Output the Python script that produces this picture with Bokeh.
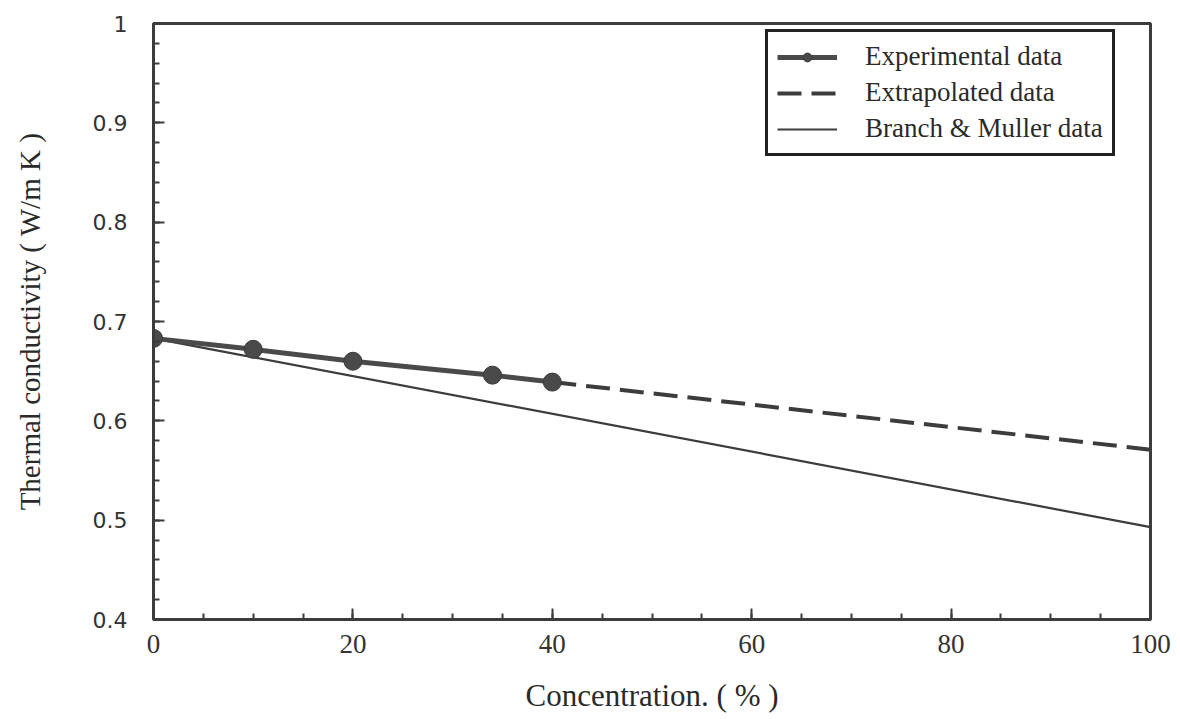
from bokeh.plotting import figure
from bokeh.models import FixedTicker, Range1d, Legend, LegendItem
from bokeh.embed import file_html
from bokeh.resources import INLINE

# Data
exp_conc = [0, 10, 20, 34, 40]
exp_k = [0.683, 0.672, 0.660, 0.646, 0.639]
extrap_conc = [40, 100]
extrap_k = [0.639, 0.571]
bm_conc = [0, 100]
bm_k = [0.683, 0.493]

x_ticks = [0, 20, 40, 60, 80, 100]
y_ticks = [0.4, 0.5, 0.6, 0.7, 0.8, 0.9, 1.0]
y_labels = {0.4: "0.4", 0.5: "0.5", 0.6: "0.6", 0.7: "0.7", 0.8: "0.8", 0.9: "0.9", 1.0: "1"}

INK = "#3c3c3c"

p = figure(width=1176, height=715, output_backend="svg", toolbar_location=None,
           x_range=Range1d(0, 100), y_range=Range1d(0.4, 1.0),
           min_border_left=153, min_border_right=26, min_border_top=23, min_border_bottom=95)
p.background_fill_color = "white"
p.border_fill_color = "white"
p.outline_line_color = INK
p.outline_line_width = 3
p.xgrid.visible = False
p.ygrid.visible = False

p.xaxis.ticker = FixedTicker(ticks=x_ticks, minor_ticks=list(range(0, 101, 5)))
p.yaxis.ticker = FixedTicker(ticks=y_ticks, minor_ticks=[round(0.4 + 0.02 * i, 2) for i in range(31)])
p.yaxis.major_label_overrides = y_labels
p.xaxis.major_label_overrides = {t: str(t) for t in x_ticks}

for ax in (p.xaxis[0], p.yaxis[0]):
    ax.axis_line_color = INK
    ax.axis_line_width = 3
    ax.major_tick_in = 11
    ax.major_tick_out = 0
    ax.minor_tick_in = 6
    ax.minor_tick_out = 0
    ax.major_tick_line_color = INK
    ax.minor_tick_line_color = INK
    ax.major_tick_line_width = 2
    ax.minor_tick_line_width = 2
    ax.major_label_text_color = "#333333"
    ax.axis_label_text_color = "#2a2a2a"
    ax.axis_label_text_font_style = "normal"

p.xaxis.axis_label = "Concentration. ( % )"
p.xaxis.axis_label_text_font = "Liberation Serif"
p.xaxis.axis_label_text_font_size = "31px"
p.xaxis.major_label_text_font = "Liberation Serif"
p.xaxis.major_label_text_font_size = "27px"
p.xaxis.major_label_standoff = 15
p.xaxis.axis_label_standoff = 22

p.yaxis.axis_label = "Thermal conductivity ( W/m K )"
p.yaxis.axis_label_text_font = "Liberation Serif"
p.yaxis.axis_label_text_font_size = "29px"
p.yaxis.major_label_text_font = "DejaVu Sans"
p.yaxis.major_label_text_font_size = "22px"
p.yaxis.major_label_standoff = 26
p.yaxis.axis_label_standoff = 44

r_bm = p.line(bm_conc, bm_k, line_color=INK, line_width=2.2)
r_ex = p.line(extrap_conc, extrap_k, line_color=INK, line_width=4, line_dash="24 10")
r_exp_line = p.line(exp_conc, exp_k, line_color="#4a4a4a", line_width=5)
r_exp_pts = p.scatter(exp_conc, exp_k, size=18, fill_color="#4a4a4a", line_color="#3a3a3a", line_width=1)

legend = Legend(items=[
    LegendItem(label="Experimental data", renderers=[r_exp_line, r_exp_pts]),
    LegendItem(label="Extrapolated data", renderers=[r_ex]),
    LegendItem(label="Branch & Muller data", renderers=[r_bm]),
], location=(612, 463))
legend.label_text_font = "Liberation Serif"
legend.label_text_font_size = "27px"
legend.label_text_color = "#2a2a2a"
legend.glyph_width = 60
legend.glyph_height = 22
legend.label_height = 22
legend.label_standoff = 28
legend.spacing = 5
legend.padding = 9
legend.margin = 0
legend.border_line_color = "#222222"
legend.border_line_alpha = 1.0
legend.border_line_width = 3
legend.background_fill_color = "white"
legend.background_fill_alpha = 1
p.add_layout(legend)

open("out.html", "w").write(file_html(p, INLINE))
